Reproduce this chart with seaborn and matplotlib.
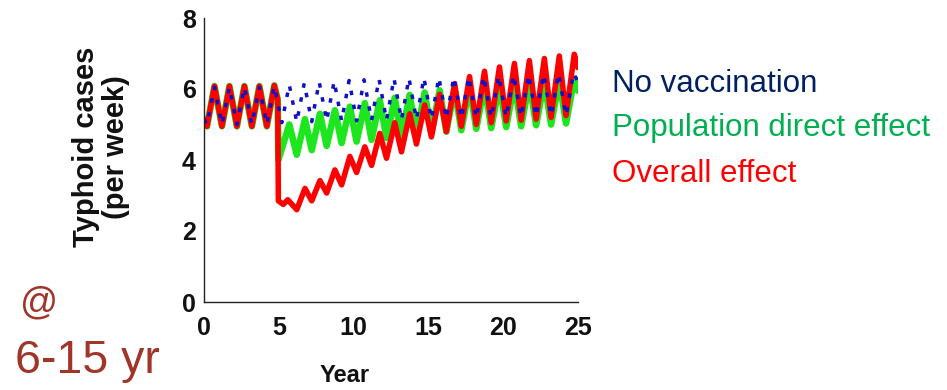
"""
Typhoid cases per week (6-15 yr): no vaccination vs population direct
effect vs overall effect of vaccination starting at year 5.
"""
import matplotlib
matplotlib.use('Agg')
import matplotlib.pyplot as plt
import pandas as pd
import seaborn as sns

# --- datos (máximos / mínimos de cada ciclo anual) ---
red_years = [0, 0.2, 0.7, 1.2, 1.7, 2.2, 2.7, 3.2, 3.7, 4.2, 4.7, 4.93, 4.97,
             5.3, 5.6, 6.2, 6.75, 7.2, 7.75, 8.2, 8.75, 9.2, 9.75, 10.2, 10.75,
             11.2, 11.75, 12.2, 12.75, 13.2, 13.75, 14.2, 14.75, 15.2, 15.75,
             16.2, 16.75, 17.2, 17.75, 18.2, 18.75, 19.2, 19.75, 20.2, 20.75,
             21.2, 21.75, 22.2, 22.75, 23.2, 23.75, 24.2, 24.75, 25.0]
red_cases = [5.15, 4.95, 6.08, 4.95, 6.08, 4.95, 6.08, 4.95, 6.08, 4.95, 6.1, 5.7, 2.85,
             2.75, 2.88, 2.6, 3.2, 2.85, 3.42, 3.07, 3.72, 3.3, 4.1, 3.65, 4.37,
             3.85, 4.75, 4.05, 5.05, 4.23, 5.3, 4.45, 5.55, 4.65, 5.85,
             4.8, 6.15, 4.95, 6.35, 5.0, 6.5, 5.05, 6.62, 5.1, 6.72,
             5.12, 6.8, 5.15, 6.86, 5.2, 6.93, 5.25, 6.98, 6.6]

green_years = [0, 0.2, 0.7, 1.2, 1.7, 2.2, 2.7, 3.2, 3.7, 4.2, 4.7, 4.93, 4.97,
               5.7, 6.2, 6.75, 7.2, 7.75, 8.2, 8.75, 9.2, 9.75, 10.2, 10.75,
               11.2, 11.75, 12.2, 12.75, 13.2, 13.75, 14.2, 14.75, 15.2, 15.75,
               16.2, 16.75, 17.2, 17.75, 18.2, 18.75, 19.2, 19.75, 20.2, 20.75,
               21.2, 21.75, 22.2, 22.75, 23.2, 23.75, 24.2, 24.75, 25.0]
green_cases = [5.15, 4.95, 6.08, 4.95, 6.08, 4.95, 6.08, 4.95, 6.08, 4.95, 6.1, 5.7, 4.0,
               5.0, 4.15, 5.15, 4.28, 5.3, 4.4, 5.4, 4.48, 5.5, 4.52, 5.6,
               4.57, 5.68, 4.62, 5.75, 4.66, 5.83, 4.7, 5.9, 4.74, 5.96,
               4.8, 6.02, 4.84, 6.07, 4.88, 6.11, 4.9, 6.14, 4.93, 6.17,
               4.95, 6.2, 4.98, 6.23, 5.0, 6.26, 5.03, 6.3, 5.95]

blue_years = [0, 0.2, 0.7, 1.2, 1.7, 2.2, 2.7, 3.2, 3.7, 4.2, 4.7, 5.2, 5.7,
              6.2, 6.7, 7.2, 7.7, 8.2, 8.7, 9.2, 9.7, 10.2, 10.7, 11.2, 11.7,
              12.2, 12.7, 13.2, 13.7, 14.2, 14.7, 15.2, 15.7, 16.2, 16.7,
              17.2, 17.7, 18.2, 18.7, 19.2, 19.7, 20.2, 20.7, 21.2, 21.7,
              22.2, 22.7, 23.2, 23.7, 24.2, 24.7, 25.0]
blue_cases = [5.15, 5.0, 6.05, 5.0, 6.05, 5.0, 6.05, 5.0, 6.05, 5.0, 6.08, 5.05, 6.12,
              5.07, 6.16, 5.08, 6.2, 5.1, 6.22, 5.1, 6.24, 5.1, 6.26, 5.12, 6.28,
              5.12, 6.3, 5.13, 6.31, 5.14, 6.32, 5.15, 6.33, 5.16, 6.34,
              5.17, 6.35, 5.18, 6.36, 5.19, 6.38, 5.2, 6.4, 5.21, 6.41,
              5.22, 6.42, 5.24, 6.44, 5.25, 6.45, 6.2]

x_ticks = [0, 5, 10, 15, 20, 25]
y_ticks = [0, 2, 4, 6, 8]

sns.set_style('white')
plt.rcParams['font.family'] = ['Liberation Sans', 'DejaVu Sans']

fig = plt.figure(figsize=(9.47, 3.9), dpi=100)
ax = fig.add_axes([204 / 947, 88 / 390, 374 / 947, 284 / 390])

green_df = pd.DataFrame({'Year': green_years, 'Cases': green_cases})
red_df = pd.DataFrame({'Year': red_years, 'Cases': red_cases})
blue_df = pd.DataFrame({'Year': blue_years, 'Cases': blue_cases})

sns.lineplot(data=green_df, x='Year', y='Cases', ax=ax, color='#1ee61e',
             lw=4.8, sort=False, estimator=None, solid_joinstyle='round',
             solid_capstyle='round')
sns.lineplot(data=red_df, x='Year', y='Cases', ax=ax, color='#ff0000',
             lw=4.0, sort=False, estimator=None, solid_joinstyle='round',
             solid_capstyle='round')
sns.lineplot(data=blue_df, x='Year', y='Cases', ax=ax, color='#1010c8',
             lw=2.5, sort=False, estimator=None, linestyle=(0, (1.3, 2.8)),
             dash_capstyle='butt')

ax.set_xlim(0, 25)
ax.set_ylim(0, 8)
ax.set_xticks(x_ticks)
ax.set_yticks(y_ticks)
ax.set_xlabel('')
ax.set_ylabel('')
for s in ['top', 'right']:
    ax.spines[s].set_visible(False)
for s in ['left', 'bottom']:
    ax.spines[s].set_color('#222222')
    ax.spines[s].set_linewidth(1.0)
ax.tick_params(axis='both', direction='in', length=4, width=0.8, color='#999999',
               labelsize=18, labelcolor='#111111')
ax.tick_params(axis='x', pad=10)
ax.tick_params(axis='y', pad=6)
for lab in ax.get_xticklabels() + ax.get_yticklabels():
    lab.set_fontweight('bold')

# textos
fig.text(101 / 947, 0.623, 'Typhoid cases\n(per week)', rotation=90,
         ha='center', va='center', multialignment='center',
         fontsize=21, fontweight='bold', color='#111111', linespacing=1.05)
fig.text(345 / 947, 0.038, 'Year', ha='center', va='center',
         fontsize=17, fontweight='bold', color='#111111')
fig.text(20 / 947, 0.197, '@', ha='left', va='baseline', fontsize=27, color='#a0352a')
fig.text(15 / 947, 0.044, '6-15 yr', ha='left', va='baseline', fontsize=33.5, color='#a0352a')

fig.text(612 / 947, 0.764, 'No vaccination', ha='left', va='baseline',
         fontsize=22.5, color='#002060')
fig.text(612 / 947, 0.651, 'Population direct effect', ha='left', va='baseline',
         fontsize=22.5, color='#00b050')
fig.text(612 / 947, 0.534, 'Overall effect', ha='left', va='baseline',
         fontsize=22.5, color='#ff0000')

fig.savefig('out.png', dpi=100)
